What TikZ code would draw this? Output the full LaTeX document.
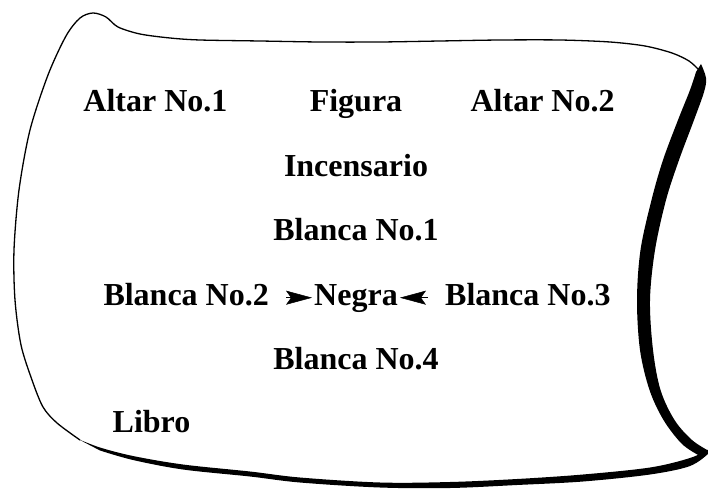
\documentclass[tikz,border=0pt]{standalone}
\usepackage{fontspec}
\setmainfont{Liberation Serif}
\usetikzlibrary{positioning,arrows.meta}
\begin{document}
\begin{tikzpicture}[x=1pt,y=-1pt,
    lbl/.style={inner sep=0pt, text height=22pt, text depth=7pt, font=\fontsize{32}{38}\selectfont\bfseries},
    pointer/.style={-{Stealth[length=26pt,width=14pt,inset=5pt]}, line width=0.5pt}]
  \useasboundingbox (0,0) rectangle (708,489);
  % scroll: thin left and top edge
  \draw[line width=1.3pt] plot[smooth, tension=0.5] coordinates {(80,440) (57,423) (43,407) (32,380) (21,345) (15,300) (14,250) (19,190) (30,130) (48,75) (66,36) (80,18) (93,13) (106,17) (118,27) (140,34) (170,38) (200,40) (260,41) (320,42) (380,42) (440,41) (500,40) (560,40) (610,42) (645,46) (672,53) (689,61) (699,70)};
  % heavy right edge
  \fill plot[smooth, tension=0.55] coordinates {(701,64) (706,78) (704,92) (694,120) (679,160) (666,200) (655,250) (650,300) (653,350) (660.5,390) (674.5,420) (692,440) (709,451)}
    -- plot[smooth, tension=0.55] coordinates {(700,456) (682,444) (663.5,420) (649.5,390) (640,350) (637,300) (640.5,250) (651.5,200) (663,160) (678,120) (690,90) (696,72)} -- cycle;
  % heavy bottom edge
  \fill plot[smooth, tension=0.55] coordinates {(709,449) (690,458) (650,467.5) (583,474.5) (517,479) (450,482) (380,482.5) (300,477.5) (250,471.5) (183,464.5) (133,456) (100,447.5) (78,439)}
    -- plot[smooth, tension=0.55] coordinates {(100,450.5) (133,460) (183,469.5) (250,476.5) (300,482.5) (380,487.5) (450,488) (517,485) (583,481.5) (650,474.5) (690,466) (709,453)} -- cycle;

  \node[lbl] (figura) at (356,104.5) {Figura};
  \node[lbl, left=82pt of figura] (altar1) {Altar No.1};
  \node[lbl, right=68pt of figura] (altar2) {Altar No.2};
  \node[lbl, below=35pt of figura] (incensario) {Incensario};
  \node[lbl, below=35pt of incensario] (blanca1) {Blanca No.1};
  \node[lbl, below=35pt of blanca1] (negra) {Negra};
  \node[lbl, left=45pt of negra] (blanca2) {Blanca No.2};
  \node[lbl, right=47pt of negra] (blanca3) {Blanca No.3};
  \node[lbl, below=35pt of negra] (blanca4) {Blanca No.4};
  \node[lbl] (libro) at (151.5,424.5) {Libro};

  \draw[pointer, shorten <=17pt, shorten >=2pt] (blanca2) -- (negra);
  \draw[pointer, shorten <=17pt, shorten >=2pt] (blanca3) -- (negra);
\end{tikzpicture}
\end{document}
